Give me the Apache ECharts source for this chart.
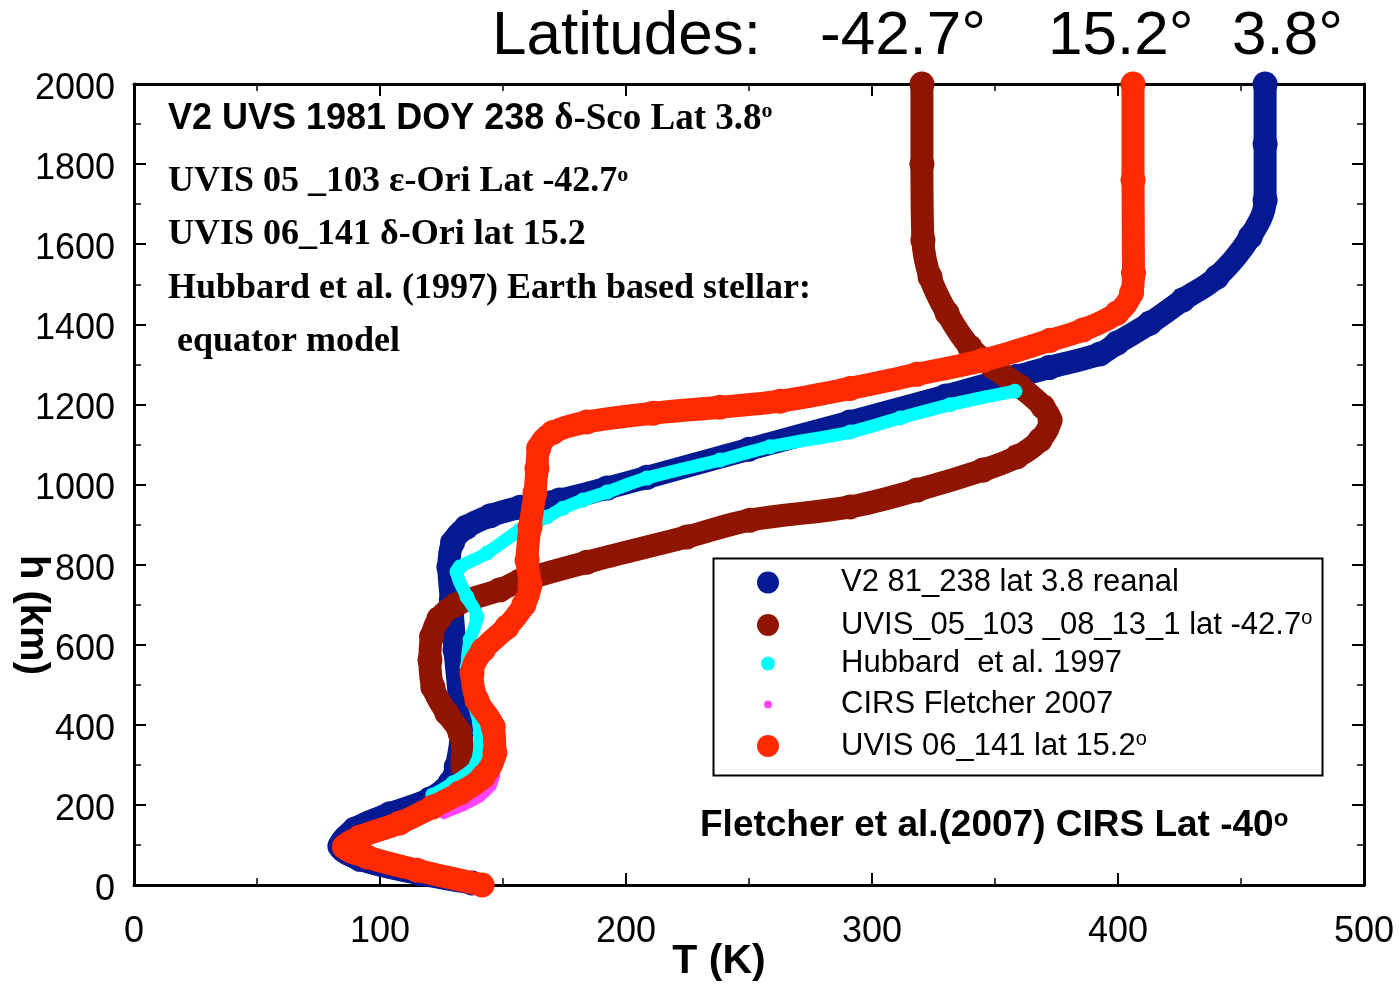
<!DOCTYPE html>
<html>
<head>
<meta charset="utf-8">
<title>Temperature profiles</title>
<script src="https://cdn.jsdelivr.net/npm/echarts@6/dist/echarts.min.js"></script>
<style>
  html, body { margin: 0; padding: 0; background: #fff; }
  #chart { width: 1399px; height: 984px; }
</style>
</head>
<body>
<div id="chart"></div>
<script>
// Temperature (K) versus altitude (km) profiles, each point is [T, h]
const v2Profile = [
  [459.8, 2000], [459.8, 1850], [459.8, 1710], [453.7, 1618], [440.2, 1518],
  [426.4, 1461], [413, 1403], [399.6, 1353], [392.7, 1326], [372, 1292],
  [359, 1270], [330, 1221], [291, 1156], [250, 1088], [208.5, 1018],
  [192.3, 991], [173, 961], [157, 943], [145, 922], [135, 893],
  [129.5, 855], [128, 794], [129, 712], [130.5, 587], [133, 380],
  [131, 295], [128.5, 255], [120.3, 215], [104.1, 178], [89.8, 140],
  [83.7, 97], [91.9, 64], [116.3, 28], [137.4, 5]
];
const uvis05Profile = [
  [320.3, 2000], [320.3, 1800], [320.7, 1610], [323.6, 1518], [330.5, 1428],
  [339.8, 1343], [349.2, 1293], [360, 1245], [369.5, 1194], [372.4, 1161],
  [368.3, 1111], [358.9, 1069], [345.1, 1036], [318.3, 986], [291.1, 944],
  [250.4, 911], [224.8, 869], [184.1, 806], [156.9, 759], [148.8, 737],
  [131, 700], [124, 665], [121, 620], [120.3, 562], [121.5, 494],
  [127.2, 429], [132.5, 380], [133.7, 312], [133.7, 295]
];
const hubbardProfile = [
  [358.1, 1233], [331.7, 1199], [311.4, 1166], [291.1, 1131], [258.5, 1094],
  [238.2, 1061], [208.5, 1016], [192.3, 981], [182.5, 961], [174.4, 941],
  [167.9, 919], [156.9, 886], [143.5, 829], [132.5, 794], [131.3, 782],
  [135.4, 719], [139.4, 669], [136.6, 612], [135.4, 544], [137.8, 462],
  [140.7, 380], [139.4, 305], [129.7, 255], [121.5, 225]
];
const cirsProfile = [
  [126, 175], [134, 195], [141, 218], [145.5, 245], [147, 270], [147.5, 300]
];
const uvis06Profile = [
  [406.1, 2000], [406.1, 1760], [406.3, 1528], [405.5, 1478], [399.6, 1428],
  [385.8, 1386], [372.4, 1360], [345.1, 1310], [318.3, 1275], [291.1, 1240],
  [262.6, 1208], [238.2, 1193], [211, 1178], [184.1, 1156], [170.3, 1130],
  [164.5, 1090], [163.8, 1040], [163, 979], [161, 894], [159.8, 811],
  [161, 750], [158.5, 700], [151.6, 644], [141.9, 587], [137.4, 529],
  [139.4, 462], [146, 395], [146.7, 330], [141.9, 270], [132.5, 230],
  [121.5, 195], [108.1, 155], [91.9, 120], [85.5, 95], [94.7, 70],
  [115, 37], [141.5, 0]
];

const seriesNames = [
  'V2 81_238 lat 3.8 reanal',
  'UVIS_05_103 _08_13_1 lat -42.7',
  'Hubbard  et al. 1997',
  'CIRS Fletcher 2007',
  'UVIS 06_141 lat 15.2'
];
// names that carry a degree superscript in the legend
const degreeNames = [seriesNames[1], seriesNames[4]];

const xTicks = { min: 0, max: 500, step: 100 };
const yTicks = { min: 0, max: 2000, step: 200 };

const latitudeLabels = ['-42.7°', '15.2°', '3.8°'];

const SANS = '"Liberation Sans", Arial, sans-serif';
const SERIF = '"Liberation Serif", "Times New Roman", serif';

const colors = {
  v2: '#041a92',
  uvis05: '#8f1500',
  hubbard: '#00ffff',
  cirs: '#ff44ff',
  uvis06: '#ff2a00'
};

function profileSeries(name, data, color, width, dot, z) {
  return {
    name: name,
    type: 'line',
    data: data,
    smooth: 0.35,
    symbol: 'circle',
    symbolSize: dot,
    showSymbol: true,
    z: z,
    itemStyle: { color: color },
    lineStyle: { color: color, width: width, cap: 'round', join: 'round' },
    emphasis: { disabled: true }
  };
}

function legendFor(name, centerY, size) {
  return {
    data: [name],
    orient: 'vertical',
    left: 768 - size / 2,
    top: centerY - 14,
    padding: 0,
    icon: 'circle',
    itemWidth: size,
    itemHeight: size,
    formatter: function (n) {
      return degreeNames.indexOf(n) >= 0 ? '{t|' + n + '}{s|o}' : '{t|' + n + '}';
    },
    textStyle: {
      padding: [0, 0, 0, 68 - size / 2],
      rich: {
        t: { fontSize: 31, fontFamily: SANS, color: '#000' },
        s: { fontSize: 20, fontFamily: SANS, color: '#000', verticalAlign: 'top', padding: [0, 0, 14, 0] }
      }
    }
  };
}

function axisCommon(showLabel, margin, labelExtra) {
  return {
    axisLine: { show: true, onZero: false, lineStyle: { color: '#000', width: 3 } },
    axisTick: { show: true, inside: true, length: 12, lineStyle: { color: '#000', width: 2 } },
    minorTick: { show: true, splitNumber: 2, length: 7, lineStyle: { color: '#000', width: 1.5 } },
    splitLine: { show: false },
    axisLabel: Object.assign({
      show: showLabel, fontSize: 36, fontFamily: SANS, color: '#000', margin: margin,
      formatter: function (v) { return String(v); }
    }, labelExtra || {})
  };
}

const chart = echarts.init(document.getElementById('chart'), null, { renderer: 'canvas' });

const option = {
  animation: false,
  backgroundColor: '#fff',
  grid: { left: 134, right: 35, top: 84, bottom: 99, containLabel: false },
  xAxis: [
    Object.assign({ type: 'value', position: 'bottom', min: xTicks.min, max: xTicks.max, interval: xTicks.step }, axisCommon(true, 29)),
    Object.assign({ type: 'value', position: 'top', min: xTicks.min, max: xTicks.max, interval: xTicks.step }, axisCommon(false, 8))
  ],
  yAxis: [
    Object.assign({ type: 'value', position: 'left', min: yTicks.min, max: yTicks.max, interval: yTicks.step },
      axisCommon(true, 19, { verticalAlign: 'top', lineHeight: 10 })),
    Object.assign({ type: 'value', position: 'right', min: yTicks.min, max: yTicks.max, interval: yTicks.step }, axisCommon(false, 8))
  ],
  legend: [
    legendFor(seriesNames[0], 581, 22),
    legendFor(seriesNames[1], 622, 22),
    legendFor(seriesNames[2], 662, 14),
    legendFor(seriesNames[3], 703, 8),
    legendFor(seriesNames[4], 743, 22)
  ],
  series: [
    profileSeries(seriesNames[0], v2Profile, colors.v2, 23, 25, 2),
    profileSeries(seriesNames[1], uvis05Profile, colors.uvis05, 23, 25, 3),
    profileSeries(seriesNames[2], hubbardProfile, colors.hubbard, 13, 15, 4),
    profileSeries(seriesNames[3], cirsProfile, colors.cirs, 8, 9, 5),
    profileSeries(seriesNames[4], uvis06Profile, colors.uvis06, 23, 25, 6)
  ],
  graphic: [
    // legend frame
    { type: 'rect', left: 711, top: 556, shape: { width: 609, height: 217 },
      style: { fill: 'none', stroke: '#000', lineWidth: 2 }, z: 1 },
    // latitude header
    { type: 'text', x: 492, y: 37, style: { text: 'Latitudes:', font: '62px ' + SANS, fill: '#000', verticalAlign: 'middle' } },
    { type: 'text', x: 820, y: 37, style: { text: latitudeLabels[0], font: '62px ' + SANS, fill: '#000', verticalAlign: 'middle' } },
    { type: 'text', x: 1048, y: 37, style: { text: latitudeLabels[1], font: '62px ' + SANS, fill: '#000', verticalAlign: 'middle' } },
    { type: 'text', x: 1232, y: 37, style: { text: latitudeLabels[2], font: '62px ' + SANS, fill: '#000', verticalAlign: 'middle' } },
    // occultation notes
    { type: 'text', x: 168, y: 119, z: 10, style: {
        text: '{a|V2 UVS 1981 DOY 238 }{b|δ-Sco Lat 3.8}{s|o}', verticalAlign: 'middle',
        rich: {
          a: { font: 'bold 36px ' + SANS, fill: '#000' },
          b: { font: 'bold 37px ' + SERIF, fill: '#000' },
          s: { font: 'bold 22px ' + SERIF, fill: '#000', verticalAlign: 'top' }
        } } },
    { type: 'text', x: 168, y: 182, z: 10, style: {
        text: '{b|UVIS 05 _103 ε-Ori Lat -42.7}{s|o}', verticalAlign: 'middle',
        rich: {
          b: { font: 'bold 36px ' + SERIF, fill: '#000' },
          s: { font: 'bold 22px ' + SERIF, fill: '#000', verticalAlign: 'top' }
        } } },
    { type: 'text', x: 168, y: 235, z: 10, style: { text: 'UVIS 06_141 δ-Ori lat 15.2', font: 'bold 36px ' + SERIF, fill: '#000', verticalAlign: 'middle' } },
    { type: 'text', x: 168, y: 289, z: 10, style: { text: 'Hubbard et al. (1997) Earth based stellar:', font: 'bold 36px ' + SERIF, fill: '#000', verticalAlign: 'middle' } },
    { type: 'text', x: 177, y: 342, z: 10, style: { text: 'equator model', font: 'bold 36px ' + SERIF, fill: '#000', verticalAlign: 'middle' } },
    { type: 'text', x: 700, y: 826, z: 10, style: {
        text: '{a|Fletcher et al.(2007) CIRS Lat -40}{s|o}', verticalAlign: 'middle',
        rich: {
          a: { font: 'bold 37px ' + SANS, fill: '#000' },
          s: { font: 'bold 24px ' + SANS, fill: '#000', verticalAlign: 'top' }
        } } },
    // axis titles
    { type: 'text', x: 719, y: 962, style: { text: 'T (K)', font: 'bold 41px ' + SANS, fill: '#000', align: 'center', verticalAlign: 'middle' } },
    { type: 'text', x: 32, y: 615, rotation: -Math.PI / 2, style: { text: 'h (km)', font: 'bold 40px ' + SANS, fill: '#000', align: 'center', verticalAlign: 'middle' } }
  ]
};

chart.setOption(option);
</script>
</body>
</html>
